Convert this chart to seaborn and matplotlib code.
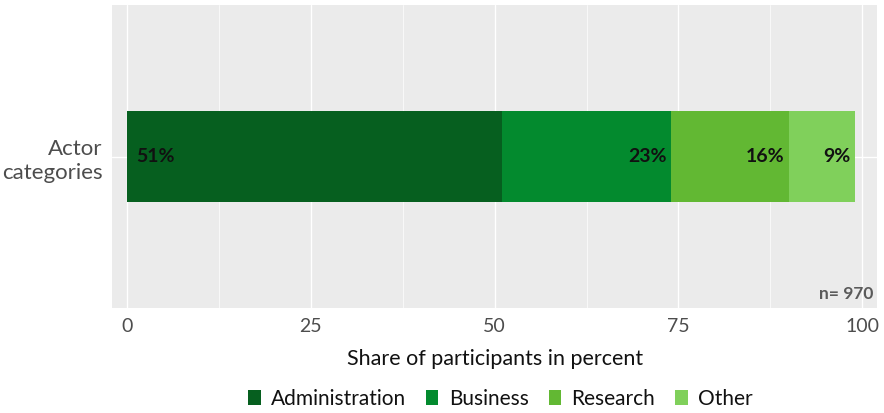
import matplotlib
matplotlib.use("Agg")
import matplotlib.pyplot as plt
import seaborn as sns
import numpy as np
import pandas as pd
from matplotlib.patches import Patch

# Share of participants per actor category (percent)
categories = ["Administration", "Business", "Research", "Other"]
shares = [51, 23, 16, 9]
colors = ["#065f1f", "#038a2e", "#62b833", "#80d05b"]
row_label = "Actor\ncategories"
x_ticks = [0, 25, 50, 75, 100]
sample_note = "n= 970"

sns.set_theme(style="darkgrid")
plt.rcParams["font.family"] = ["Lato", "DejaVu Sans"]

fig, ax = plt.subplots(figsize=(8.84, 4.13), dpi=100)
fig.subplots_adjust(left=0.127, right=0.992, top=0.988, bottom=0.254)
ax.set_facecolor("#ebebeb")

ends = np.cumsum(shares)
starts = ends - np.array(shares)

# Stacked bar: draw cumulative totals from the longest down so each segment sits on top
for i in reversed(range(len(categories))):
    df = pd.DataFrame({"value": [ends[i]], "row": [row_label]})
    sns.barplot(data=df, x="value", y="row", color=colors[i], width=0.36,
                saturation=1, orient="h", ax=ax, zorder=2, linewidth=0,
                edgecolor="none")

# Segment labels
for i, (s, e, v) in enumerate(zip(starts, ends, shares)):
    if i == 0:
        ax.text(s + 1.3, 0, f"{v}%", ha="left", va="center",
                fontsize=14, fontweight="bold", color="#111111", zorder=3)
    else:
        ax.text(e - 0.6, 0, f"{v}%", ha="right", va="center",
                fontsize=14, fontweight="bold", color="#111111", zorder=3)

ax.set_xlim(-2.0, 102.0)
ax.set_ylim(0.6, -0.6)
ax.set_xticks(x_ticks)
ax.set_xticklabels([str(t) for t in x_ticks])
ax.set_xticks(np.arange(12.5, 100, 25), minor=True)
ax.grid(True, which="major", color="white", linewidth=1.0, zorder=0)
ax.grid(True, which="minor", axis="x", color="white", linewidth=0.5, zorder=0)
ax.set_axisbelow(True)
for sp in ax.spines.values():
    sp.set_visible(False)

ax.tick_params(axis="both", which="major", length=3, width=0.8, color="#555555",
               labelcolor="#4d4d4d", labelsize=14, pad=4)
ax.tick_params(axis="x", which="minor", length=0)
ax.set_ylabel("")
ax.set_xlabel("Share of participants in percent", fontsize=15.5, color="#111111", labelpad=10)
for lab in ax.get_yticklabels():
    lab.set_horizontalalignment("right")
    lab.set_fontsize(16)
    lab.set_linespacing(1.3)

ax.text(0.996, 0.02, sample_note, transform=ax.transAxes, ha="right", va="bottom",
        fontsize=12.5, fontweight="bold", color="#5a5a5a", zorder=3)

handles = [Patch(facecolor=c, edgecolor="none") for c in colors]
fig.legend(handles, categories, loc="lower center", bbox_to_anchor=(0.566, -0.036),
           ncol=4, frameon=False, fontsize=15, handlelength=0.6, handleheight=0.75,
           handletextpad=0.5, columnspacing=0.95, labelcolor="#111111")

fig.savefig("out.png", dpi=100)
